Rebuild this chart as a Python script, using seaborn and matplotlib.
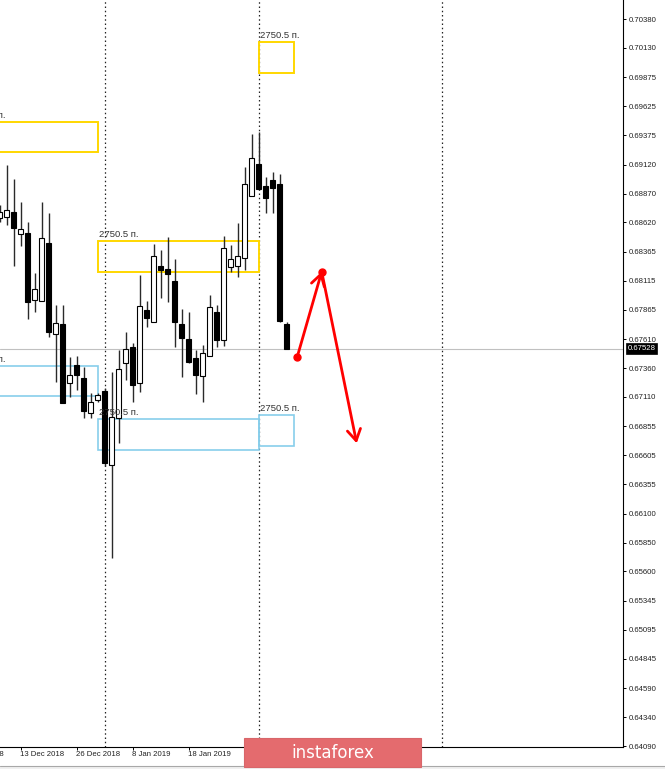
import matplotlib
matplotlib.use("Agg")
import matplotlib.pyplot as plt
import matplotlib.transforms as mtransforms
from matplotlib.patches import Rectangle
from matplotlib.lines import Line2D
import seaborn as sns
import numpy as np
import pandas as pd

# ---------------- data ----------------
opens = [0.68658, 0.68667, 0.68710, 0.68520, 0.68529, 0.67949, 0.67940, 0.68442,
         0.67655, 0.67741, 0.67231, 0.67386, 0.67274, 0.66971, 0.67084, 0.67161,
         0.66521, 0.66928, 0.67404, 0.67542, 0.67231, 0.67862, 0.67759, 0.68243,
         0.68217, 0.68113, 0.67741, 0.67611, 0.67447, 0.67291, 0.67464, 0.67845,
         0.67603, 0.68234, 0.68243, 0.68312, 0.68849, 0.69126, 0.68935, 0.68987,
         0.68952, 0.67741]
highs = [0.68771, 0.69117, 0.68996, 0.68797, 0.68624, 0.68182, 0.68797, 0.68702,
         0.67906, 0.67906, 0.67456, 0.67464, 0.67369, 0.67144, 0.67144, 0.67187,
         0.67326, 0.67516, 0.67672, 0.67577, 0.68165, 0.67940, 0.68433, 0.68381,
         0.68494, 0.68304, 0.67871, 0.67845, 0.67516, 0.67560, 0.67992, 0.67906,
         0.68503, 0.68425, 0.68615, 0.69100, 0.69385, 0.69402, 0.69013, 0.69056,
         0.69039, 0.67759]
lows = [0.68624, 0.68598, 0.68243, 0.68416, 0.67784, 0.67845, 0.67940, 0.67629,
        0.67239, 0.67058, 0.67110, 0.67170, 0.66928, 0.66928, 0.67066, 0.66513,
        0.65717, 0.66712, 0.67257, 0.67066, 0.67153, 0.67715, 0.67759, 0.67966,
        0.67932, 0.67542, 0.67283, 0.67404, 0.67136, 0.67066, 0.67464, 0.67542,
        0.67551, 0.68191, 0.68148, 0.68208, 0.68849, 0.68901, 0.68702, 0.68702,
        0.67759, 0.67525]
closes = [0.68710, 0.68727, 0.68572, 0.68563, 0.67932, 0.68044, 0.68485, 0.67672,
          0.67750, 0.67058, 0.67300, 0.67300, 0.66988, 0.67066, 0.67127, 0.66539,
          0.66937, 0.67352, 0.67525, 0.67213, 0.67897, 0.67793, 0.68330, 0.68208,
          0.68174, 0.67759, 0.67620, 0.67412, 0.67300, 0.67490, 0.67888, 0.67603,
          0.68399, 0.68304, 0.68330, 0.68952, 0.69177, 0.68909, 0.68831, 0.68918,
          0.67767, 0.67528]

current_price = 0.67528
current_label = "0.67528"

ytick_labels = ["0.70380", "0.70130", "0.69875", "0.69625", "0.69375", "0.69120",
                "0.68870", "0.68620", "0.68365", "0.68115", "0.67865", "0.67610",
                "0.67360", "0.67110", "0.66855", "0.66605", "0.66355", "0.66100",
                "0.65850", "0.65600", "0.65345", "0.65095", "0.64845", "0.64590",
                "0.64340", "0.64090"]
ytick_values = [float(s) for s in ytick_labels]

xtick_pos = [3, 11, 19, 27]
xtick_labels = ["13 Dec 2018", "26 Dec 2018", "8 Jan 2019", "18 Jan 2019"]
extra_xtick_pos = -5
extra_xtick_label = "3 Dec 2018"

separators = [15, 37, 63.2]

box_label = "2750.5 п."
# (left index, right index, bottom price, top price)
yellow_boxes = [(-5.07, 14.03, 0.69229, 0.69489),
                (14.03, 37.0, 0.68191, 0.68455),
                (37.07, 42.07, 0.69913, 0.70181)]
blue_boxes = [(-5.07, 14.03, 0.67118, 0.67378),
              (14.03, 37.07, 0.66651, 0.66919),
              (37.07, 42.07, 0.66686, 0.66954)]

arrow_x = [42.54, 46.03, 51.03]
arrow_y = [0.67458, 0.68194, 0.66709]

# ---------------- style ----------------
sns.set_theme(style="white")
plt.rcParams['font.family'] = ['Liberation Sans', 'DejaVu Sans']

W, H = 665, 769
fig = plt.figure(figsize=(W / 100, H / 100), dpi=100)
fig.patch.set_facecolor("white")
ax = fig.add_axes([0, 22.5 / H, 623 / W, 746.5 / H])
ax.set_facecolor("white")

df = pd.DataFrame({"idx": np.arange(len(opens)), "open": opens, "high": highs,
                   "low": lows, "close": closes})
bull = df["close"] >= df["open"]

ax.vlines(df["idx"], df["low"], df["high"], color="#2a2a2a", lw=1.0, zorder=3)
body_h = (df["close"] - df["open"]).abs().clip(lower=0.00002)
body_b = np.minimum(df["open"], df["close"])
ax.bar(df["idx"], body_h, bottom=body_b, width=0.62,
       color=np.where(bull, "white", "black"), edgecolor="black", lw=0.8, zorder=4)

# current price line
ax.axhline(current_price, color="#c0c0c0", lw=0.8, zorder=1)

# period separators
for s in separators:
    ax.axvline(s, color="#222222", lw=0.9, ls=(0, (1.2, 2.2)), zorder=2)

# boxes
for (kl, kr, pb, pt) in yellow_boxes:
    ax.add_patch(Rectangle((kl, pb), kr - kl, pt - pb, fill=False, ec="#ffd700",
                           lw=1.4, zorder=2))
    ax.annotate(box_label, xy=(kl, pt), xytext=(1.5, 4), textcoords="offset pixels",
                fontsize=6.8, color="#333333", ha="left", va="baseline",
                annotation_clip=False, zorder=6)
for (kl, kr, pb, pt) in blue_boxes:
    ax.add_patch(Rectangle((kl, pb), kr - kl, pt - pb, fill=False, ec="#87ceeb",
                           lw=1.2, zorder=2))
    ax.annotate(box_label, xy=(kl, pt), xytext=(1.5, 4), textcoords="offset pixels",
                fontsize=6.8, color="#333333", ha="left", va="baseline",
                annotation_clip=False, zorder=6)

# red forecast arrows
ax.plot(arrow_x[:2], arrow_y[:2], "o", color="red", ms=5, zorder=8)
for i in range(len(arrow_x) - 1):
    ax.annotate("", xy=(arrow_x[i + 1], arrow_y[i + 1]), xytext=(arrow_x[i], arrow_y[i]),
                arrowprops=dict(arrowstyle="->,head_length=0.5,head_width=0.3",
                                color="red", lw=2.0, mutation_scale=16,
                                shrinkA=0, shrinkB=0), zorder=8)

# axes limits
ax.set_xlim(0.5 / 7, 623.5 / 7)
ax.set_ylim(0.640857, 0.705444)

for sp in ["left", "top"]:
    ax.spines[sp].set_visible(False)
for sp in ["right", "bottom"]:
    ax.spines[sp].set_visible(True)
    ax.spines[sp].set_color("black")
    ax.spines[sp].set_linewidth(0.8)

ax.yaxis.tick_right()
ax.set_yticks(ytick_values)
ax.set_yticklabels(ytick_labels)
ax.tick_params(axis="y", right=True, left=False, direction="out", length=2.5,
               width=0.7, pad=1.5, labelsize=5.6, color="black", labelcolor="#222222")
ax.set_xticks(xtick_pos)
ax.set_xticklabels(xtick_labels)
ax.tick_params(axis="x", bottom=True, direction="out", length=2.5, width=0.7,
               pad=1.0, labelsize=5.6, color="black", labelcolor="#222222")
for lbl in ax.get_xticklabels():
    lbl.set_ha("left")
ax.annotate(extra_xtick_label, xy=(extra_xtick_pos, 0), xycoords=("data", "axes fraction"),
            xytext=(0, -3.5), textcoords="offset points", ha="left", va="top",
            fontsize=5.6, color="#222222", annotation_clip=False)
ax.grid(False)

# current price tag on the axis
trans = mtransforms.blended_transform_factory(ax.transAxes, ax.transData)
ax.text(1 + 4.5 / 623, current_price, current_label, transform=trans, ha="left",
        va="center", fontsize=5.6, color="white", clip_on=False, zorder=9,
        bbox=dict(boxstyle="square,pad=0.25", fc="black", ec="black", lw=0.5))

# bottom window line
fig.add_artist(Rectangle((0, 0), 1, 3.5 / H, transform=fig.transFigure,
                         fc="#f0f0f0", ec="none", zorder=1))
fig.add_artist(Line2D([0, 1], [3.5 / H, 3.5 / H], transform=fig.transFigure,
                      color="#a8a8a8", lw=0.8, zorder=2))

# watermark
fig.add_artist(Rectangle((244 / W, 2 / H), 177 / W, 29 / H, transform=fig.transFigure,
                         fc="#e46b6e", ec="#d8666a", lw=0.8, zorder=5))
fig.text(332.5 / W, 1 - 753 / H, "instaforex", ha="center", va="center", color="white",
         fontsize=12, family=["DejaVu Sans"], zorder=6)

fig.savefig("out.png", dpi=100)
